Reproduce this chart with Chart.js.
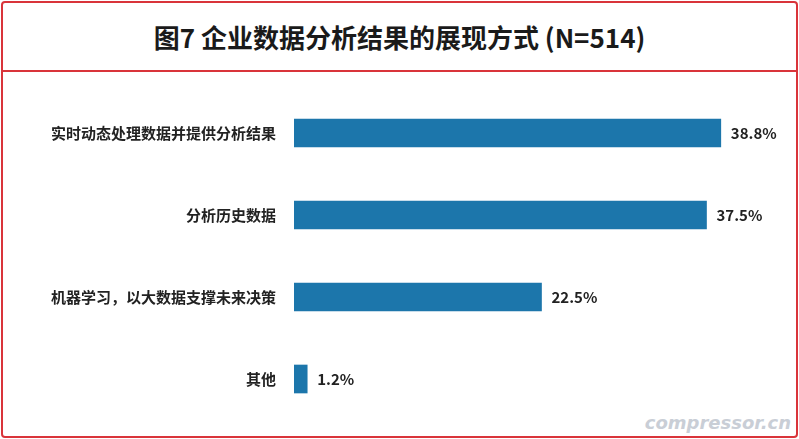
<!DOCTYPE html>
<html><head><meta charset="utf-8">
<script src="https://cdn.jsdelivr.net/npm/chart.js@4/dist/chart.umd.min.js"></script>
<style>
body{margin:0;width:799px;height:439px;background:#fff;overflow:hidden;font-family:"Noto Sans CJK SC",sans-serif}
#frame{position:absolute;left:1px;top:1px;width:793px;height:433px;border:2px solid #d9343a;border-radius:4px}
#title{position:absolute;left:3px;top:3px;width:793px;height:67px;border-bottom:2px solid #d9343a;text-align:center;line-height:67px;font-size:26px;font-weight:bold;color:#1a1a1a}
#c{position:absolute;left:0;top:0}
#wm{position:absolute;right:8px;bottom:6px;font:italic bold 18px "DejaVu Sans";color:#c9ced6}
</style></head><body>
<div id="frame"></div><div id="title">图7 企业数据分析结果的展现方式 (N=514)</div>
<div id="wm">compressor.cn</div>
<canvas id="c" width="799" height="439"></canvas>
<script>
const categories=["实时动态处理数据并提供分析结果","分析历史数据","机器学习，以大数据支撑未来决策","其他"];
const values=[38.8,37.5,22.5,1.2];
const labelsPlugin={id:'lbl',afterDatasetsDraw(ch){const ctx=ch.ctx;ctx.save();ctx.font='bold 15px "Noto Sans CJK SC"';ctx.fillStyle='#222';ctx.textBaseline='middle';
ch.getDatasetMeta(0).data.forEach((b,i)=>{ctx.fillText(values[i].toFixed(1)+'%',b.x+10,b.y);});ctx.restore();}};
new Chart(document.getElementById('c'),{type:'bar',
data:{labels:categories,datasets:[{data:values,backgroundColor:'#1c76ab',barThickness:28}]},
options:{indexAxis:'y',responsive:false,animation:false,events:[],
layout:{padding:{top:92,bottom:15,right:10,left:0}},
plugins:{legend:{display:false},tooltip:{enabled:false}},
scales:{x:{display:false,min:0,max:45},
y:{afterFit(s){s.width=294;},grid:{display:false},border:{display:false},
ticks:{padding:10,color:'#222',font:{size:15,weight:'bold',family:'"Noto Sans CJK SC"'}}}}},
plugins:[labelsPlugin]});
</script></body></html>
